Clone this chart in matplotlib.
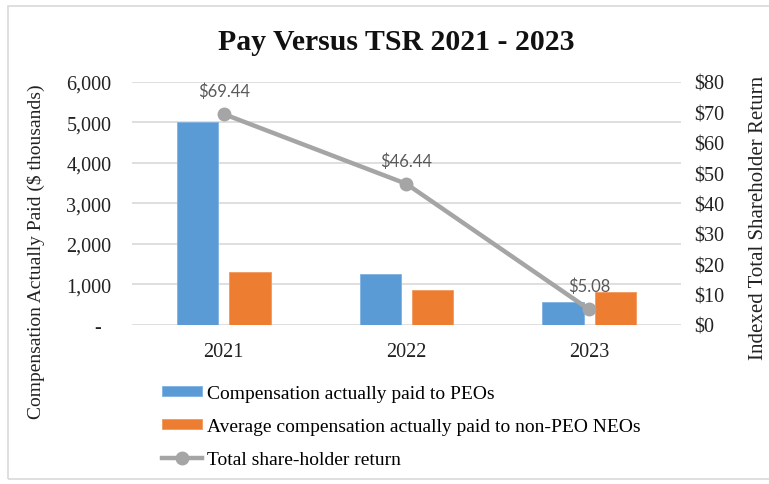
import numpy as np
import matplotlib.pyplot as plt
from matplotlib.patches import Rectangle
from matplotlib.ticker import FuncFormatter

years = ["2021", "2022", "2023"]
peo_cap = [5000, 1260, 560]
neo_cap = [1316, 850, 810]
tsr = [69.44, 46.44, 5.08]
tsr_labels = ["$69.44", "$46.44", "$5.08"]

plt.rcParams['font.family'] = ['Liberation Serif', 'DejaVu Serif']

fig = plt.figure(figsize=(7.69, 4.85), dpi=100)
ax = fig.add_axes([0.172, 0.328, 0.713, 0.501])
ax2 = ax.twinx()

x = np.arange(len(years))
w = 0.227
off = 0.143
b1 = ax.bar(x - off, peo_cap, w, color='#5B9BD5', edgecolor='#7FB2E0', linewidth=0.6,
            label='Compensation actually paid to PEOs', zorder=2)
b2 = ax.bar(x + off, neo_cap, w, color='#ED7D31', edgecolor='#F29A5E', linewidth=0.6,
            label='Average compensation actually paid to non-PEO NEOs', zorder=2)
ln, = ax2.plot(x, tsr, color='#A5A5A5', lw=3.2, marker='o', ms=9,
               label='Total share-holder return', zorder=3)
for xi, yi, s in zip(x, tsr, tsr_labels):
    ax2.annotate(s, (xi, yi), xytext=(0, 17), textcoords='offset points',
                 ha='center', va='center', fontsize=12, color='#595959',
                 family='Lato')

ax.set_xlim(-0.5, 2.5)
ax.set_ylim(0, 6000)
ax.set_yticks(np.arange(0, 6001, 1000))
ax.yaxis.set_major_formatter(FuncFormatter(lambda v, p: '-  ' if v == 0 else f'{v:,.0f}'))
ax2.set_ylim(0, 80)
ax2.set_yticks(np.arange(0, 81, 10))
ax2.yaxis.set_major_formatter(FuncFormatter(lambda v, p: f'${v:.0f}'))
ax.set_xticks(x)
ax.set_xticklabels(years)

ax.grid(axis='y', color='#D9D9D9', lw=1.2, zorder=0)
ax.set_axisbelow(True)
for a in (ax, ax2):
    for sp in a.spines.values():
        sp.set_visible(False)
    a.tick_params(length=0, labelsize=14.5, colors='#222222')
ax.tick_params(axis='y', pad=15)
ax.tick_params(axis='x', pad=12)
ax2.tick_params(axis='y', pad=10)

ax.set_ylabel('Compensation Actually Paid ($ thousands)', fontsize=14, color='#222222')
ax.yaxis.set_label_coords(-0.16, 0.307)
ax2.set_ylabel('Indexed Total Shareholder Return', fontsize=15, color='#222222')
ax2.yaxis.set_label_coords(1.124, 0.444)

fig.text(0.515, 0.913, 'Pay Versus TSR 2021 - 2023', ha='center', va='center',
         fontsize=21.4, fontweight='bold', color='#111111')

fig.legend([b1, b2, ln], [b1.get_label(), b2.get_label(), ln.get_label()],
           loc='upper left', bbox_to_anchor=(0.211, 0.204), frameon=False,
           fontsize=14, handlelength=2.06, handleheight=0.37, handletextpad=0.25,
           labelspacing=0.82, borderaxespad=0, borderpad=0)

fig.patches.append(Rectangle((8 / 769, 5 / 485), 770 / 769, 473 / 485,
                             transform=fig.transFigure, fill=False,
                             edgecolor='#D9D9D9', lw=1.2))

fig.savefig('out.png', dpi=100)
